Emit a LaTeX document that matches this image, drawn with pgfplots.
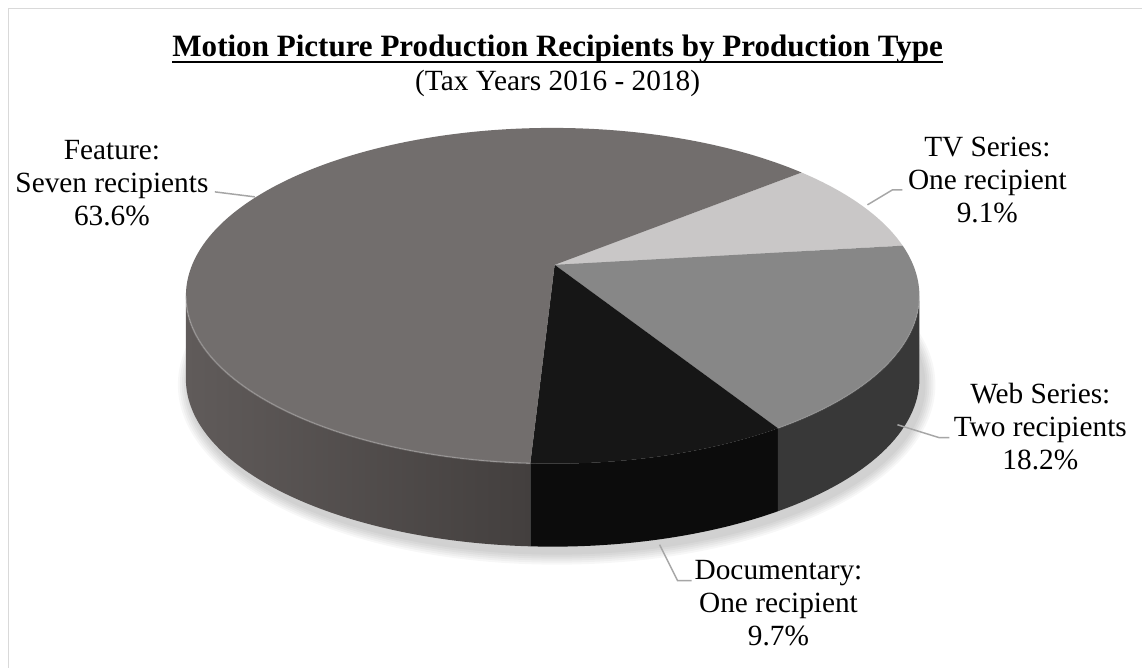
\documentclass[border=0pt]{standalone}
\usepackage{pgfplots}
\pgfplotsset{compat=1.18}
\usepackage{pgfplotstable}
\usepackage{fontspec}
\setmainfont{Liberation Serif}

\definecolor{cFeat}{HTML}{726E6D}
\definecolor{cTV}{HTML}{C9C7C7}
\definecolor{cWeb}{HTML}{878787}
\definecolor{cDoc}{HTML}{161616}
\definecolor{sFeatL}{HTML}{605B5A}
\definecolor{sFeatR}{HTML}{433F3E}
\definecolor{sDoc}{HTML}{0C0C0C}
\definecolor{sWeb}{HTML}{383838}
\definecolor{leader}{HTML}{A6A6A6}
\definecolor{frame}{HTML}{D9D9D9}

\pgfplotstableread[col sep=comma]{
type,value
Feature,63.6
TV Series,9.1
Web Series,18.2
Documentary,9.7
}\piedata

\pgfplotstablegetelem{0}{value}\of\piedata \let\vFeat\pgfplotsretval
\pgfplotstablegetelem{1}{value}\of\piedata \let\vTV\pgfplotsretval
\pgfplotstablegetelem{2}{value}\of\piedata \let\vWeb\pgfplotsretval
\pgfplotstablegetelem{3}{value}\of\piedata \let\vDoc\pgfplotsretval
\pgfmathsetmacro\total{\vFeat+\vTV+\vWeb+\vDoc}
% true (3D) boundary angles of the slices, clockwise
\pgfmathsetmacro\thA{39.5}
\pgfmathsetmacro\thB{\thA-360*(\vTV/\total)}
\pgfmathsetmacro\thC{\thB-360*(\vWeb/\total)}
\pgfmathsetmacro\thD{\thC-360*(\vDoc/\total)}
% perspective: centre of the disc is seen above the centre of the ellipse
\pgfmathsetmacro\dd{(403-372)/168}
\pgfmathsetmacro\sq{sqrt(1-\dd*\dd)}
\newcommand\perspang[1]{%
  \pgfmathsetmacro\tmpden{1+\dd*sin(#1)}%
  \pgfmathsetmacro\tmpu{cos(#1)*\sq/\tmpden}%
  \pgfmathsetmacro\tmpv{(sin(#1)+\dd)/\tmpden}%
  \pgfmathsetmacro\tmpT{atan2(\tmpv,\tmpu)}}
\perspang{\thA}\let\tA\tmpT
\perspang{\thB}\let\tB\tmpT
\perspang{\thC}\let\tC\tmpT
\perspang{\thD}\let\tD\tmpT
\pgfmathsetmacro\tE{\tA-360}

\def\RX{275.25pt}
\def\RY{126pt}
\def\DEP{62.25pt}

\begin{document}
\begin{tikzpicture}
\begin{axis}[
  x=0.75pt, y=0.75pt,
  xmin=0, xmax=1143, ymin=0, ymax=668,
  disabledatascaling,
  hide axis, clip=false,
]
% background and frame
\fill[white] (axis cs:0,0) rectangle (axis cs:1143,668);
\draw[frame, line width=1.1pt] (axis cs:8.5,0) -- (axis cs:8.5,659.5) -- (axis cs:1143,659.5);

% shadow
\fill[black, opacity=0.03] (axis cs:557,283) ellipse[x radius=284.25pt, y radius=135pt];
\fill[black, opacity=0.03] (axis cs:557,283) ellipse[x radius=282.75pt, y radius=133.5pt];
\fill[black, opacity=0.03] (axis cs:557,283) ellipse[x radius=281.25pt, y radius=132pt];
\fill[black, opacity=0.03] (axis cs:557,283) ellipse[x radius=279.75pt, y radius=130.5pt];
\fill[black, opacity=0.03] (axis cs:557,283) ellipse[x radius=278.25pt, y radius=129pt];
\fill[black, opacity=0.03] (axis cs:557,283) ellipse[x radius=276.75pt, y radius=127.5pt];

\coordinate (O) at (axis cs:555,403);
\coordinate (RA) at (axis cs:{553+367*cos(\tA)},{372+168*sin(\tA)});
\coordinate (RB) at (axis cs:{553+367*cos(\tB)},{372+168*sin(\tB)});
\coordinate (RC) at (axis cs:{553+367*cos(\tC)},{372+168*sin(\tC)});
\coordinate (RD) at (axis cs:{553+367*cos(\tD)},{372+168*sin(\tD)});
\coordinate (RL) at (axis cs:186,372);

% side walls
\shade[left color=sFeatL, right color=sFeatR] (RL) arc[start angle=-180, end angle=\tD, x radius=\RX, y radius=\RY] -- ++(0pt,-\DEP) arc[start angle=\tD, end angle=-180, x radius=\RX, y radius=\RY] -- cycle;
\fill[sDoc] (RD) arc[start angle=\tD, end angle=\tC, x radius=\RX, y radius=\RY] -- ++(0pt,-\DEP) arc[start angle=\tC, end angle=\tD, x radius=\RX, y radius=\RY] -- cycle;
\fill[sWeb] (RC) arc[start angle=\tC, end angle=0, x radius=\RX, y radius=\RY] -- ++(0pt,-\DEP) arc[start angle=0, end angle=\tC, x radius=\RX, y radius=\RY] -- cycle;

% top faces
\fill[cTV] (O) -- (RA) arc[start angle=\tA, end angle=\tB, x radius=\RX, y radius=\RY] -- cycle;
\fill[cWeb] (O) -- (RB) arc[start angle=\tB, end angle=\tC, x radius=\RX, y radius=\RY] -- cycle;
\fill[cDoc] (O) -- (RC) arc[start angle=\tC, end angle=\tD, x radius=\RX, y radius=\RY] -- cycle;
\fill[cFeat] (O) -- (RD) arc[start angle=\tD, end angle=\tE, x radius=\RX, y radius=\RY] -- cycle;

% rim highlight
\draw[white, opacity=0.22, line width=1.2pt] (RL) arc[start angle=-180, end angle=\tD, x radius=\RX, y radius=\RY];
\draw[white, opacity=0.10, line width=1.2pt] (RC) arc[start angle=\tC, end angle=0, x radius=\RX, y radius=\RY];

% title
\node[anchor=base, inner sep=0pt, font=\fontsize{23.3}{27}\selectfont\bfseries] (T) at (axis cs:558,611.5) {Motion Picture Production Recipients by Production Type};
\draw[black, line width=1.5pt] ([yshift=-4pt]T.base west) -- ([yshift=-4pt]T.base east);
\node[anchor=base, inner sep=0pt, font=\fontsize{22}{26}\selectfont] at (axis cs:558,577) {(Tax Years 2016 - 2018)};

% labels
\tikzset{lbl/.style={anchor=base, inner sep=0pt, font=\fontsize{22}{26}\selectfont}}
\node[lbl] at (axis cs:112,508) {Feature:};
\node[lbl] at (axis cs:112,475) {Seven recipients};
\node[lbl] at (axis cs:112,442) {63.6\%};
\draw[leader, line width=1.1pt] (axis cs:215,476) -- (axis cs:255,471);

\node[lbl] at (axis cs:988,511) {TV Series:};
\node[lbl] at (axis cs:988,478) {One recipient};
\node[lbl] at (axis cs:988,445) {9.1\%};
\draw[leader, line width=1.1pt] (axis cs:868,463) -- (axis cs:893,478) -- (axis cs:903,478);

\node[lbl] at (axis cs:1041,264) {Web Series:};
\node[lbl] at (axis cs:1041,231) {Two recipients};
\node[lbl] at (axis cs:1041,198) {18.2\%};
\draw[leader, line width=1.1pt] (axis cs:898,243) -- (axis cs:940,230) -- (axis cs:950,230);

\node[lbl] at (axis cs:779,88) {Documentary:};
\node[lbl] at (axis cs:779,55) {One recipient};
\node[lbl] at (axis cs:779,22) {9.7\%};
\draw[leader, line width=1.1pt] (axis cs:660,123) -- (axis cs:678,87) -- (axis cs:692,87);
\end{axis}
\end{tikzpicture}
\end{document}
